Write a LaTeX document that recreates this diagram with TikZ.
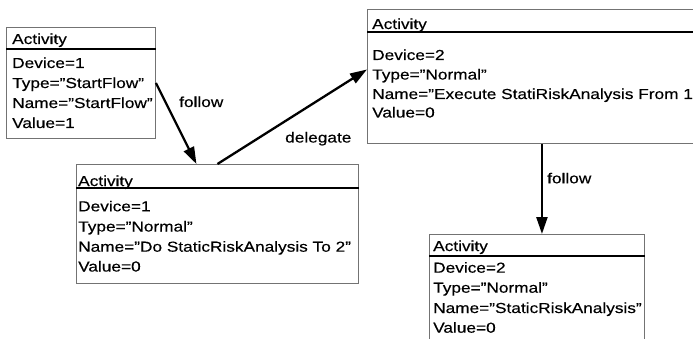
\documentclass[tikz,border=0pt]{standalone}
\usepackage{fontspec}
\setmainfont[FakeStretch=1.19,FakeBold=0.3]{Liberation Sans}
\usetikzlibrary{arrows.meta}
\begin{document}
\begin{tikzpicture}[x=1pt,y=-1pt,
  box/.style={draw=black!55,line width=0.9pt,inner sep=0pt,anchor=north west},
  divider/.style={draw=black,line width=1.1pt},
  txt/.style={anchor=base west,inner sep=0pt,font=\fontsize{14.5}{19}\selectfont},
  arr/.style={line width=2.3pt,-{Triangle[length=17pt,width=11pt]}}]
\useasboundingbox (0,0) rectangle (693,339);
\clip (0,0) rectangle (693,339);
\fill[white] (0,0) rectangle (693,339);
% boxes
\node[box,minimum width=149pt,minimum height=111pt] (a1) at (6,27) {};
\node[box,minimum width=282pt,minimum height=119pt] (a2) at (76,164) {};
\node[box,minimum width=340pt,minimum height=134pt] (a3) at (367,9) {};
\node[box,minimum width=215pt,minimum height=120pt] (a4) at (429,234) {};
% dividers
\draw[divider] (a1.west |- 0,49) -- (a1.east |- 0,49);
\draw[divider] (a2.west |- 0,188) -- (a2.east |- 0,188);
\draw[divider] (a3.west |- 0,32) -- (a3.east |- 0,32);
\draw[divider] (a4.west |- 0,256) -- (a4.east |- 0,256);
% box 1
\node[txt] (a1h) at (12,44) {Activity};
\node[txt] (a1d) at (12,68) {Device=1};
\node[txt] (a1t) at (12,88) {Type=”StartFlow”};
\node[txt] (a1n) at (12,108) {Name=”StartFlow”};
\node[txt] (a1v) at (12,128) {Value=1};
% box 2
\node[txt] (a2h) at (78,186) {Activity};
\node[txt] (a2d) at (78,211.3) {Device=1};
\node[txt] (a2t) at (78,231.5) {Type=”Normal”};
\node[txt] (a2n) at (78,251.7) {Name=”Do StaticRiskAnalysis To 2”};
\node[txt] (a2v) at (78,271.5) {Value=0};
% box 3
\node[txt] (a3h) at (372,29) {Activity};
\node[txt] (a3d) at (372,60) {Device=2};
\node[txt] (a3t) at (372,79.5) {Type=”Normal”};
\node[txt] (a3n) at (372,99) {Name=”Execute StatiRiskAnalysis From 1”};
\node[txt] (a3v) at (372,117.5) {Value=0};
% box 4
\node[txt] (a4h) at (433,251) {Activity};
\node[txt] (a4d) at (433,272.7) {Device=2};
\node[txt] (a4t) at (433,292.7) {Type=”Normal”};
\node[txt] (a4n) at (433,313) {Name=”StaticRiskAnalysis”};
\node[txt] (a4v) at (433,332.7) {Value=0};
% connectors
\coordinate (f1end) at ([xshift=-21pt]a2.north);
\draw[arr] (a1.east) -- (f1end);
\coordinate (d1end) at ([yshift=7pt]a3.west);
\draw[arr] (a2.north) -- (d1end);
\coordinate (f2end) at ([xshift=5pt]a4.north);
\draw[arr] (a3.south -| f2end) -- (f2end);
% labels
\node[txt] (l1) at (179,107) {follow};
\node[txt] (l2) at (285,142.5) {delegate};
\node[txt] (l3) at (547,183.3) {follow};
\end{tikzpicture}
\end{document}
